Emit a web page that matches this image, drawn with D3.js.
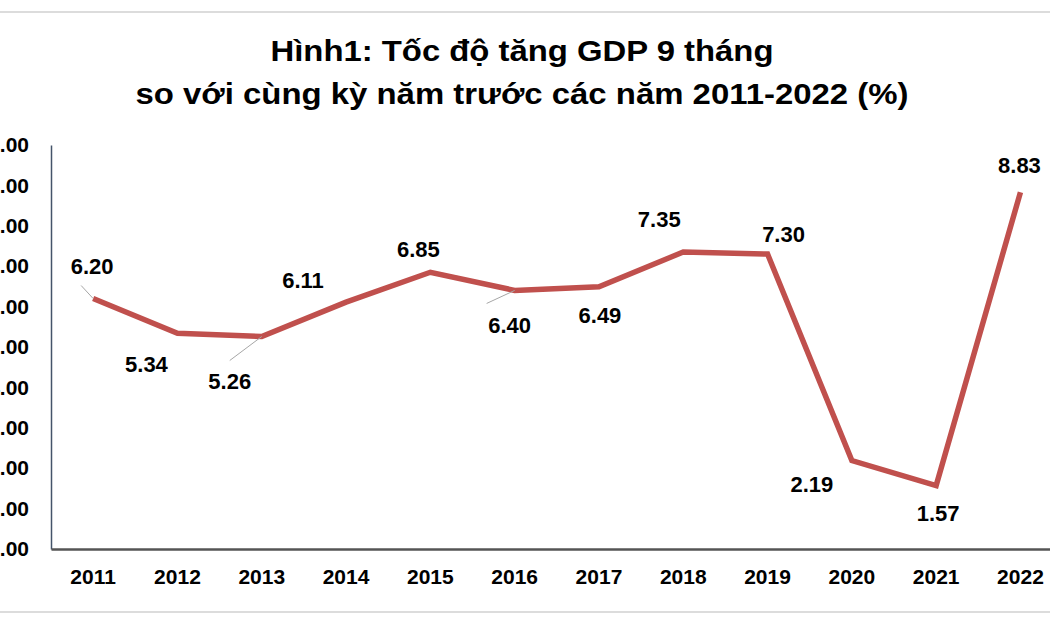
<!DOCTYPE html>
<html>
<head>
<meta charset="utf-8">
<script src="https://cdn.jsdelivr.net/npm/d3@7"></script>
<style>
	body { margin: 0; background: #fff; }
	text { font-family: "Liberation Sans", Arial, sans-serif; font-weight: bold; fill: #000; }
</style>
</head>
<body>
<div id="chart"></div>
<script>
// DATA
const years = ["2011", "2012", "2013", "2014", "2015", "2016", "2017", "2018", "2019", "2020", "2021", "2022"];
const growth = [6.20, 5.34, 5.26, 6.11, 6.85, 6.40, 6.49, 7.35, 7.30, 2.19, 1.57, 8.83];
const yTicks = [0, 1, 2, 3, 4, 5, 6, 7, 8, 9, 10];
const titleLines = ["Hình1: Tốc độ tăng GDP 9 tháng", "so với cùng kỳ năm trước các năm 2011-2022 (%)"];

// label placement relative to each point (dx, dy)
const labelOffsets = [[-1, -32], [-31, 31], [-32, 45], [-43, -22], [-12, -23], [-5, 35], [1, 28], [-24, -33], [16, -20], [-40, 24], [2, 28], [-1, -27]];
// leader lines: index of point and where the line ends
const leaders = [[0, -12, -13], [2, -32, 24], [5, -28, 13]];

const W = 1050, H = 630;

const svg = d3.select("#chart")
	.append("svg")
	.attr("width", W)
	.attr("height", H);

// frame lines top and bottom
svg.append("line").attr("x1", 0).attr("x2", W).attr("y1", 12).attr("y2", 12)
	.attr("stroke", "#dcdcdc").attr("stroke-width", 2);
svg.append("line").attr("x1", 0).attr("x2", W).attr("y1", 612).attr("y2", 612)
	.attr("stroke", "#dcdcdc").attr("stroke-width", 2);

// title
const titleWidths = [503, 773];
svg.selectAll(".title")
	.data(titleLines)
	.enter()
	.append("text")
	.attr("class", "title")
	.attr("x", 522)
	.attr("y", (d, i) => 61 + i * 43)
	.attr("text-anchor", "middle")
	.attr("textLength", (d, i) => titleWidths[i])
	.attr("lengthAdjust", "spacingAndGlyphs")
	.style("font-size", "30px")
	.text(d => d);

const x = d3.scaleBand()
	.domain(years)
	.range([51, 51 + 12 * 84.3]);

const y = d3.scaleLinear()
	.domain([0, 10])
	.range([549, 145]);

// y axis
const yAxis = d3.axisLeft(y)
	.tickValues(yTicks)
	.tickSize(0)
	.tickPadding(22)
	.tickFormat(d3.format(".2f"));

const gy = svg.append("g")
	.attr("transform", "translate(51, 0)")
	.call(yAxis);
gy.select(".domain").attr("stroke", "#44546a").attr("stroke-width", 1.5);
gy.selectAll("text").style("font-size", "21px");

// x axis
const xAxis = d3.axisBottom(x)
	.tickSize(0)
	.tickPadding(20);

const gx = svg.append("g")
	.attr("transform", "translate(0, 549)")
	.call(xAxis);
gx.select(".domain").attr("stroke", "#555").attr("stroke-width", 2.5);
gx.selectAll("text").style("font-size", "21px");

const cx = i => x(years[i]) + x.bandwidth() / 2;

// the line
const line = d3.line()
	.x((d, i) => cx(i))
	.y(d => y(d));

svg.append("path")
	.datum(growth)
	.attr("d", line)
	.attr("fill", "none")
	.attr("stroke", "#c0504d")
	.attr("stroke-width", 5.5)
	.attr("stroke-linejoin", "miter");

// leader lines
svg.selectAll(".leader")
	.data(leaders)
	.enter()
	.append("line")
	.attr("class", "leader")
	.attr("x1", d => cx(d[0]))
	.attr("y1", d => y(growth[d[0]]))
	.attr("x2", d => cx(d[0]) + d[1])
	.attr("y2", d => y(growth[d[0]]) + d[2])
	.attr("stroke", "#a6a6a6")
	.attr("stroke-width", 1);

// data labels
svg.selectAll(".lbl")
	.data(growth)
	.enter()
	.append("text")
	.attr("class", "lbl")
	.attr("x", (d, i) => cx(i) + labelOffsets[i][0])
	.attr("y", (d, i) => y(d) + labelOffsets[i][1])
	.attr("dy", "0.36em")
	.attr("text-anchor", "middle")
	.style("font-size", "22px")
	.text(d => d.toFixed(2));
</script>
</body>
</html>
